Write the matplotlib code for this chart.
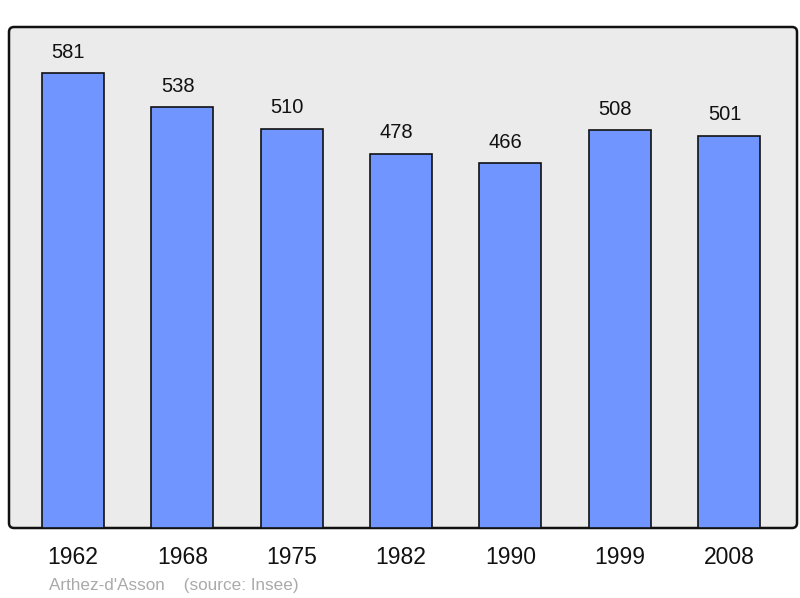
import numpy as np
import matplotlib.pyplot as plt
from matplotlib.patches import FancyBboxPatch
from matplotlib.transforms import IdentityTransform

plt.rcParams['font.family'] = ['Liberation Sans', 'DejaVu Sans']

# data
years = ['1962', '1968', '1975', '1982', '1990', '1999', '2008']
population = [581, 538, 510, 478, 466, 508, 501]
commune = "Arthez-d'Asson"
source = '(source: Insee)'

fig = plt.figure(figsize=(8, 5.98), dpi=100)
ax = fig.add_axes([9/800, 70/598, 788/800, 501/598])
ax.set_facecolor('none')
for s in ax.spines.values():
    s.set_visible(False)

# rounded frame behind the axes (pixel coords)
frame = FancyBboxPatch((9, 70), 788, 501, boxstyle='round,pad=0,rounding_size=5',
                       transform=IdentityTransform(), facecolor='#ebebeb',
                       edgecolor='#111111', linewidth=1.8, zorder=-1)
fig.patches.append(frame)

x = np.arange(len(years))
ax.bar(x, population, width=0.567, color='#7095ff', edgecolor='#111111',
       linewidth=1.2, zorder=2)

for xi, v in zip(x, population):
    ax.annotate(str(v), (xi, v), xytext=(-3.3, 15), textcoords='offset points',
                ha='center', va='center', fontsize=14.5, color='#111111')

ax.set_xlim(-0.585, 6.62)
ax.set_ylim(0, 640)
ax.set_yticks([])
ax.set_xticks(x)
ax.set_xticklabels(years, fontsize=16.5, color='#111111')
ax.tick_params(axis='x', length=0, pad=13)

fig.text(49/800, 1 - 590/598, commune + '    ' + source, fontsize=12.3,
         color='#aaaaaa', va='baseline', ha='left')

fig.savefig('out.png', dpi=100)
